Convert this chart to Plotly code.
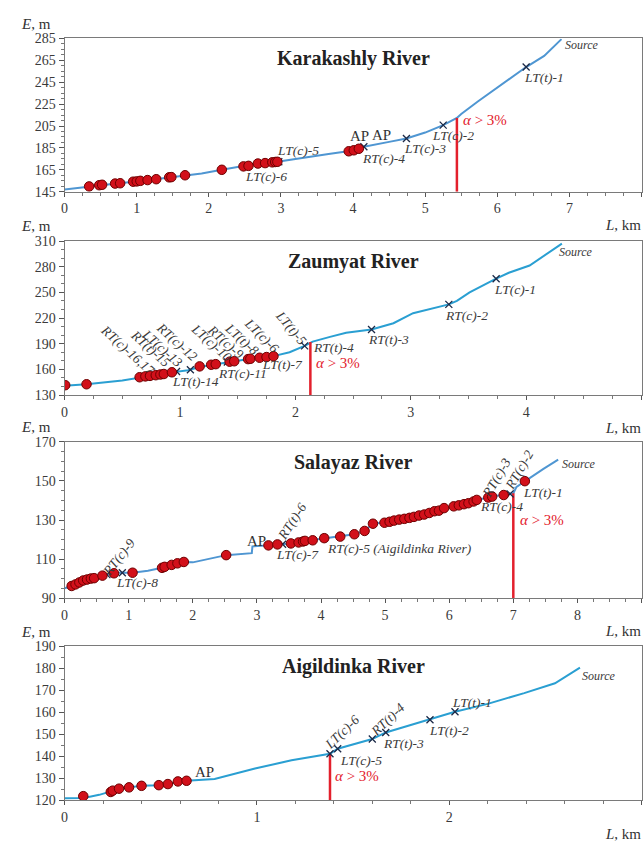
import plotly.graph_objects as go

# ---------------- Karakashly River ----------------
kar_line_L = [0, 0.34, 0.5, 0.75, 1.0, 1.27, 1.48, 1.67, 1.9, 2.18, 2.5, 2.7, 2.95, 3.3, 3.66,
              4.0, 4.15, 4.5, 4.74, 5.0, 5.25, 5.44, 5.5, 5.73, 6.0, 6.19, 6.4, 6.65, 6.89]
kar_line_E = [147, 149.8, 151.2, 152.6, 154.4, 156.4, 158.3, 160, 161.6, 165, 168.3, 171, 172.3, 176, 179.4,
              182.6, 186, 190.5, 193.6, 199, 205.8, 212.4, 216, 227.4, 240, 248.4, 258.9, 269, 284.4]
kar_pts_L = [0.34, 0.48, 0.52, 0.70, 0.77, 0.95, 1.00, 1.05, 1.15, 1.27, 1.45, 1.48, 1.67,
             2.18, 2.48, 2.55, 2.68, 2.78, 2.88, 2.92, 2.95, 3.94, 4.01, 4.08]
kar_pts_E = [149.8, 150.9, 151.3, 152.4, 152.7, 154.1, 154.4, 154.9, 155.6, 156.4, 158.1, 158.3, 160,
             165, 168.1, 168.6, 170.7, 171.1, 171.8, 172.1, 172.3, 181.9, 182.8, 184.2]
kar_cross_L = [2.97, 4.15, 4.74, 5.25, 6.40]
kar_cross_E = [172.4, 186, 193.6, 205.8, 258.9]
kar_lab = ["LT(c)-5", "LT(c)-6", "RT(c)-4", "LT(c)-3", "LT(c)-2", "LT(t)-1"]
kar_lab_L = [3.23, 2.79, 4.42, 5.00, 5.39, 6.65]
kar_lab_E = [182.4, 158.5, 175.0, 184.8, 196.5, 249.0]
kar_lab_ang = [0, 0, 0, 0, 0, 0]
kar_ap_L = [4.09, 4.39]
kar_ap_E = [195.5, 196.8]
kar_src = (7.17, 279.0)
kar_alpha_L, kar_alpha_E = 5.44, 212.4
kar_alpha_txt = (5.83, 210.9)

# ---------------- Zaumyat River ----------------
zau_line_L = [0, 0.19, 0.5, 0.65, 0.8, 0.93, 1.07, 1.17, 1.31, 1.47, 1.61, 1.81, 1.95, 2.08, 2.15,
              2.3, 2.44, 2.66, 2.85, 3.02, 3.33, 3.4, 3.51, 3.74, 3.85, 4.03, 4.31]
zau_line_E = [141, 142.5, 147, 150.5, 153.5, 156.5, 159, 162.8, 166, 169.5, 172.5, 175.5, 180, 187.5, 192.5,
              198, 202.8, 206.6, 214, 225.7, 236, 240, 249.9, 266, 273, 281.4, 307]
zau_pts_L = [0.005, 0.19, 0.65, 0.70, 0.74, 0.79, 0.83, 0.86, 0.93, 1.17, 1.27, 1.31,
             1.43, 1.47, 1.59, 1.61, 1.69, 1.75, 1.81]
zau_pts_E = [141.5, 142.6, 150.8, 151.8, 152.4, 153.2, 154.0, 154.6, 156.6, 163.5, 165.4, 166.1,
             169.0, 169.5, 172.0, 172.4, 173.6, 174.4, 175.4]
zau_cross_L = [0.97, 1.09, 1.41, 2.08, 2.66, 3.33, 3.74]
zau_cross_E = [157.5, 159.5, 168.6, 187.5, 206.6, 236, 266]
zau_lab = ["RT(c)-16,17", "RT(t)-15", "LT(c)-13", "RT(c)-12", "LT(c)-10", "RT(c)-9", "LT(t)-8",
           "LT(c)-6", "LT(t)-5", "LT(t)-14", "RT(c)-11", "LT(t)-7", "RT(t)-4", "RT(t)-3",
           "RT(c)-2", "LT(c)-1"]
zau_lab_L = [0.55, 0.745, 0.85, 0.97, 1.27, 1.39, 1.54, 1.71, 1.96, 1.13, 1.54, 1.89, 2.33, 2.81,
             3.48, 3.90]
zau_lab_E = [182.0, 184.8, 184.8, 192.4, 191.3, 192.4, 195.2, 200.1, 208.5, 145.3, 155.0, 165.6,
             185.5, 195.1, 223.0, 253.8]
zau_lab_ang = [42, 42, 42, 42, 42, 42, 42, 45, 50, 0, 0, 0, 0, 0, 0, 0]
zau_ap_L = []
zau_ap_E = []
zau_src = (4.43, 297.5)
zau_alpha_L, zau_alpha_E = 2.13, 192.0
zau_alpha_txt = (2.37, 167.5)

# ---------------- Salayaz River ----------------
sal_line_L = [0, 0.11, 0.23, 0.35, 0.46, 0.59, 0.77, 0.85, 1.06, 1.3, 1.52, 1.67, 1.86, 2.0, 2.52,
              2.92, 2.93, 3.18, 3.53, 3.75, 4.05, 4.30, 4.52, 4.68, 4.81, 5.07, 5.38, 5.69, 5.92,
              6.15, 6.43, 6.67, 6.85, 7.0, 7.05, 7.18, 7.47, 7.70]
sal_line_E = [95, 96.2, 98, 99.5, 100, 101.5, 102.7, 103, 103, 104, 105.5, 107, 108.5, 108.3, 112,
              113, 116.5, 117, 118, 119.3, 120.7, 121.5, 122.7, 124.4, 128.1, 129.1, 131.1, 133.6, 136.1,
              137.5, 140.3, 142, 142.8, 143.7, 147, 149.9, 156.2, 160.9]
sal_pts_L = [0.11, 0.17, 0.23, 0.29, 0.35, 0.41, 0.46, 0.59, 0.77, 1.06, 1.52, 1.56, 1.67, 1.76, 1.86,
             2.52, 3.18, 3.32, 3.53, 3.65, 3.72, 3.75, 3.87, 4.05, 4.30, 4.52, 4.68, 4.81,
             4.99, 5.07, 5.14, 5.22, 5.30, 5.38, 5.45, 5.53, 5.61, 5.69, 5.77, 5.84, 5.92,
             6.07, 6.15, 6.23, 6.30, 6.38, 6.43, 6.61, 6.67, 6.85, 7.18]
sal_pts_E = [96.2, 97, 98, 99, 99.5, 100, 100.2, 101.5, 102.7, 103, 105.5, 106, 107, 107.8, 108.5,
             112, 117, 117.5, 118, 118.5, 119, 119.3, 119.6, 120.7, 121.5, 122.7, 124.4, 128.1,
             128.6, 129.1, 129.7, 130.2, 130.6, 131.1, 131.6, 132.3, 132.8, 133.6, 134.5, 134.8, 136.1,
             137, 137.5, 138.1, 138.6, 139.5, 140.3, 141.5, 142, 142.8, 149.9]
sal_cross_L = [0.66, 0.90, 3.40, 4.05, 6.95]
sal_cross_E = [102.0, 103.0, 117.6, 120.7, 143.4]
sal_lab = ["RT(c)-9", "LT(c)-8", "RT(t)-6", "LT(c)-7", "RT(c)-5 (Aigildinka River)",
           "RT(c)-3", "RT(c)-2", "RT(c)-4", "LT(t)-1"]
sal_lab_L = [0.84, 1.13, 3.55, 3.64, 5.23, 6.73, 7.09, 6.81, 7.47]
sal_lab_E = [111.0, 97.9, 129.1, 112.3, 115.2, 151.4, 155.4, 137.0, 144.2]
sal_lab_ang = [-52, 0, -57, 0, 0, -60, -60, 0, 0]
sal_ap_L = [3.00]
sal_ap_E = [119.4]
sal_src = (8.02, 158.8)
sal_alpha_L, sal_alpha_E = 7.00, 143.7
sal_alpha_txt = (7.44, 130.2)

# ---------------- Aigildinka River ----------------
aig_line_L = [0, 0.1, 0.18, 0.24, 0.28, 0.335, 0.40, 0.49, 0.54, 0.59, 0.635, 0.78, 0.99, 1.18,
              1.38, 1.42, 1.60, 1.67, 1.90, 2.03, 2.20, 2.39, 2.55, 2.62, 2.68]
aig_line_E = [120.8, 121.0, 122.4, 123.8, 125.0, 125.8, 126.5, 126.8, 127.3, 128.4, 128.8, 129.6,
              134.4, 138.1, 141.1, 143.4, 147.8, 150.8, 156.6, 160.2, 163.8, 168.7, 173.2, 176.9, 180.3]
aig_pts_L = [0.097, 0.24, 0.25, 0.283, 0.335, 0.40, 0.49, 0.537, 0.589, 0.634]
aig_pts_E = [121.8, 123.7, 124.3, 125.2, 125.8, 126.5, 126.8, 127.3, 128.5, 128.8]
aig_cross_L = [1.38, 1.42, 1.60, 1.67, 1.90, 2.03]
aig_cross_E = [141.1, 143.4, 147.8, 150.8, 156.6, 160.2]
aig_lab = ["LT(c)-6", "RT(t)-4", "LT(c)-5", "RT(t)-3", "LT(t)-2", "LT(t)-1"]
aig_lab_L = [1.44, 1.68, 1.54, 1.76, 2.00, 2.12]
aig_lab_E = [150.8, 156.8, 138.1, 145.9, 151.6, 164.3]
aig_lab_ang = [-44, -44, 0, 0, 0, 0]
aig_ap_L = [0.725]
aig_ap_E = [133.0]
aig_src = (2.78, 176.6)
aig_alpha_L, aig_alpha_E = 1.38, 141.1
aig_alpha_txt = (1.52, 130.8)

rivers = [
    dict(title="Karakashly River", line=(kar_line_L, kar_line_E), pts=(kar_pts_L, kar_pts_E),
         cross=(kar_cross_L, kar_cross_E), lab=(kar_lab, kar_lab_L, kar_lab_E, kar_lab_ang),
         ap=(kar_ap_L, kar_ap_E), src=kar_src, alpha=(kar_alpha_L, kar_alpha_E), atxt=kar_alpha_txt,
         xr=[0, 8], xminor=0.25, yr=[145, 285], ydt=20, yminor=5, dom=[0.7799, 0.9625],
         color="#4f96d2"),
    dict(title="Zaumyat River", line=(zau_line_L, zau_line_E), pts=(zau_pts_L, zau_pts_E),
         cross=(zau_cross_L, zau_cross_E), lab=(zau_lab, zau_lab_L, zau_lab_E, zau_lab_ang),
         ap=(zau_ap_L, zau_ap_E), src=zau_src, alpha=(zau_alpha_L, zau_alpha_E), atxt=zau_alpha_txt,
         xr=[0, 5], xminor=0.25, yr=[130, 310], ydt=30, yminor=10, dom=[0.5375, 0.7210],
         color="#2a9fd2"),
    dict(title="Salayaz River", line=(sal_line_L, sal_line_E), pts=(sal_pts_L, sal_pts_E),
         cross=(sal_cross_L, sal_cross_E), lab=(sal_lab, sal_lab_L, sal_lab_E, sal_lab_ang),
         ap=(sal_ap_L, sal_ap_E), src=sal_src, alpha=(sal_alpha_L, sal_alpha_E), atxt=sal_alpha_txt,
         xr=[0, 9], xminor=0.25, yr=[90, 170], ydt=20, yminor=5, dom=[0.2955, 0.4816],
         color="#4f96d2"),
    dict(title="Aigildinka River", line=(aig_line_L, aig_line_E), pts=(aig_pts_L, aig_pts_E),
         cross=(aig_cross_L, aig_cross_E), lab=(aig_lab, aig_lab_L, aig_lab_E, aig_lab_ang),
         ap=(aig_ap_L, aig_ap_E), src=aig_src, alpha=(aig_alpha_L, aig_alpha_E), atxt=aig_alpha_txt,
         xr=[0, 3], xminor=0.2, yr=[120, 190], ydt=10, yminor=5, dom=[0.0547, 0.2380],
         color="#2a9fd2"),
]

SERIF = "Liberation Serif, Times New Roman, serif"
TXT = "#3a3a3a"
RED = "#e3202c"

fig = go.Figure()
annotations = []
layout = {}

for i, r in enumerate(rivers):
    n = "" if i == 0 else str(i + 1)
    xa, ya = "x" + n, "y" + n
    # river longitudinal profile
    fig.add_trace(go.Scatter(x=r["line"][0], y=r["line"][1], mode="lines",
                             line=dict(color=r["color"], width=2), xaxis=xa, yaxis=ya,
                             showlegend=False, hoverinfo="skip"))
    # slope threshold marker
    fig.add_trace(go.Scatter(x=[r["alpha"][0], r["alpha"][0]], y=[r["yr"][0], r["alpha"][1]],
                             mode="lines", line=dict(color=RED, width=2.5), xaxis=xa, yaxis=ya,
                             showlegend=False, hoverinfo="skip"))
    # tributary confluences
    fig.add_trace(go.Scatter(x=r["cross"][0], y=r["cross"][1], mode="markers",
                             marker=dict(symbol="x-thin", size=7,
                                         line=dict(color="#1d2a48", width=1.3)),
                             xaxis=xa, yaxis=ya, showlegend=False, hoverinfo="skip"))
    # sampling points
    fig.add_trace(go.Scatter(x=r["pts"][0], y=r["pts"][1], mode="markers",
                             marker=dict(size=9.5, color="#d2101a",
                                         line=dict(color="#6e0000", width=1)),
                             xaxis=xa, yaxis=ya, showlegend=False, hoverinfo="skip"))

    layout["xaxis" + n] = dict(
        domain=[61 / 643, 641.5 / 643], anchor=ya, range=r["xr"], tick0=0, dtick=1,
        showline=True, linecolor="#7a7a7a", linewidth=1, mirror=True,
        ticks="outside", ticklen=4, tickcolor="#555", showgrid=False, zeroline=False,
        minor=dict(dtick=r["xminor"], tick0=0, ticks="outside", ticklen=3, tickcolor="#777",
                   showgrid=False),
        tickfont=dict(family=SERIF, size=14, color=TXT), fixedrange=True)
    layout["yaxis" + n] = dict(
        domain=r["dom"], anchor=xa, range=r["yr"], tick0=r["yr"][0], dtick=r["ydt"],
        showline=True, linecolor="#7a7a7a", linewidth=1, mirror=True,
        ticks="outside", ticklen=5, tickcolor="#555", showgrid=False, zeroline=False,
        minor=dict(dtick=r["yminor"], tick0=r["yr"][0], ticks="outside", ticklen=3,
                   tickcolor="#777", showgrid=False),
        tickfont=dict(family=SERIF, size=14, color=TXT), fixedrange=True)

    annotations.append(dict(text="<b>" + r["title"] + "</b>", xref=xa + " domain", yref=ya + " domain",
                            x=0.5, y=0.87, xanchor="center", yanchor="middle", showarrow=False,
                            font=dict(family=SERIF, size=20, color="#222")))
    for t, lx, ly, ang in zip(*r["lab"]):
        annotations.append(dict(text="<i>" + t + "</i>", x=lx, y=ly, xref=xa, yref=ya,
                                xanchor="center", yanchor="middle",
                                showarrow=False, textangle=ang,
                                font=dict(family=SERIF, size=13.5, color=TXT)))
    for lx, ly in zip(*r["ap"]):
        annotations.append(dict(text="AP", x=lx, y=ly, xref=xa, yref=ya, showarrow=False,
                                xanchor="center", yanchor="middle",
                                font=dict(family=SERIF, size=15, color="#333")))
    annotations.append(dict(text="<i>Source</i>", x=r["src"][0], y=r["src"][1], xref=xa, yref=ya,
                            xanchor="center", yanchor="middle",
                            showarrow=False, font=dict(family=SERIF, size=12, color=TXT)))
    annotations.append(dict(text="<i>α</i> > 3%", x=r["atxt"][0], y=r["atxt"][1], xref=xa, yref=ya,
                            xanchor="center", yanchor="middle",
                            showarrow=False, font=dict(family=SERIF, size=15, color=RED)))

    # axis titles
    top_px = 854 * (1 - r["dom"][1])
    bot_px = 854 * (1 - r["dom"][0])
    annotations.append(dict(text="<i>E</i>, m", xref="paper", yref="paper", x=32 / 643,
                            y=1 - (top_px - 15) / 854, xanchor="center", yanchor="middle",
                            showarrow=False, font=dict(family=SERIF, size=15, color="#333")))
    annotations.append(dict(text="<i>L</i>, km", xref="paper", yref="paper", x=1.0, xanchor="right",
                            y=1 - (bot_px + 34) / 854, yanchor="middle", showarrow=False,
                            font=dict(family=SERIF, size=15, color="#333")))

fig.update_layout(width=643, height=854, margin=dict(l=0, r=0, t=0, b=0),
                  paper_bgcolor="white", plot_bgcolor="white",
                  annotations=annotations, **layout)

fig.write_html("out.html", config={"displayModeBar": False})
